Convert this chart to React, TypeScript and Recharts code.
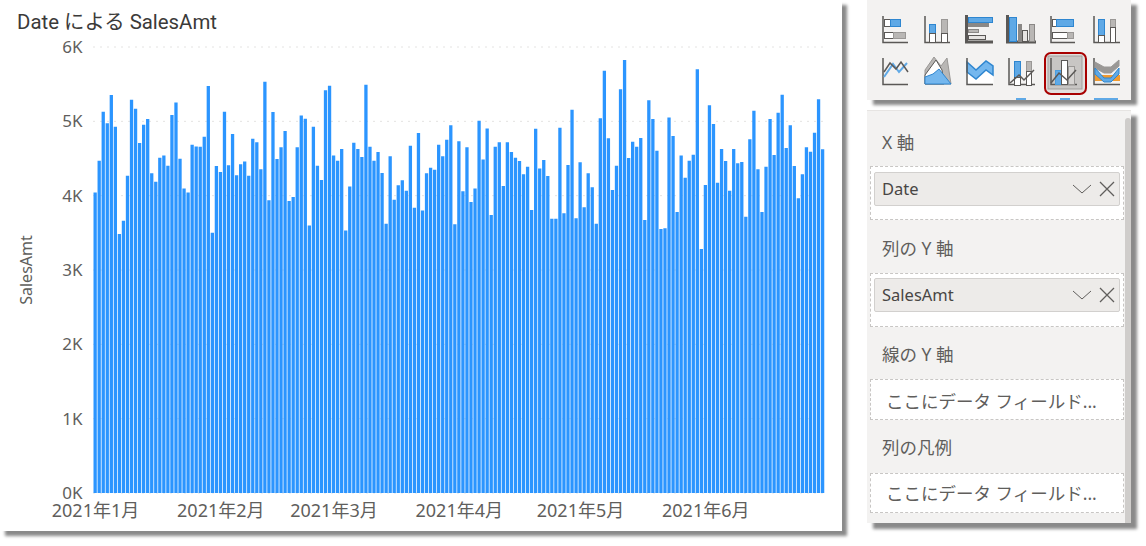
import { CSSProperties, FC } from "react";
import { Bar, BarChart, CartesianGrid, XAxis, YAxis } from "recharts";

const janSales = [4044, 4470, 5130, 4973, 5354, 4928, 3484, 3663, 4269, 5291, 5170, 4708, 4955, 5031, 4300, 4188, 4511, 4542, 4403, 5085, 5255, 4497, 4098, 4044, 4686, 4663, 4659, 4793, 5475, 3502, 4399];
const febSales = [4318, 5130, 4408, 4829, 4273, 4421, 4461, 4269, 4766, 4717, 4354, 5533, 3937, 5125, 4493, 4650, 4870, 3928, 3982, 4650, 5080, 5036, 3600, 4928, 4403, 4210, 5417, 5480];
const marSales = [4542, 4470, 4627, 3533, 4125, 4713, 4627, 4520, 5493, 4659, 4470, 4587, 4304, 3623, 4529, 3946, 4139, 4206, 4067, 4672, 3838, 4843, 3802, 4300, 4376, 4349, 4686, 4529, 4753, 4946, 3614];
const aprSales = [4731, 4058, 4650, 3914, 4098, 5009, 4488, 4905, 3739, 4659, 4717, 4130, 4717, 4587, 4511, 4466, 4287, 4390, 3807, 4901, 4367, 4479, 4264, 3690, 3690, 4914, 3762, 4412, 5157, 3695];
const maySales = [4448, 3843, 4300, 4112, 3623, 5040, 5681, 4771, 4076, 4403, 5430, 5825, 4506, 4726, 4659, 4775, 3672, 5282, 5031, 4605, 3551, 3560, 5053, 4802, 3780, 4542, 4242, 4470, 4551, 5699, 3282];
const junSales = [4143, 5215, 4964, 4174, 4627, 4466, 4067, 4627, 4435, 4453, 3717, 4758, 5143, 4354, 3780, 4390, 5031, 4547, 5116, 5358, 4641, 4946, 4399, 3964, 4287, 4650, 4592, 4847, 5296, 4623];

const monthSales = [janSales, febSales, marSales, aprSales, maySales, junSales];
const monthLabels = ["2021年1月", "2021年2月", "2021年3月", "2021年4月", "2021年5月", "2021年6月"];
const valueTicks = [0, 1000, 2000, 3000, 4000, 5000, 6000];

const chartData = monthSales.flatMap((values, m) =>
    values.map((SalesAmt, d) => ({ date: `${monthLabels[m]}${d + 1}日`, SalesAmt }))
);
const monthTicks = monthLabels.map((label) => `${label}1日`);

const FONT = '"Noto Sans", "Noto Sans CJK JP", sans-serif';
const BLUE = "#5fa9e6";
const GREY = "#b9b7b5";
const DARK = "#5a5856";
const PANEL = "#f3f2f1";

const box = (left: number, top: number, width: number, height: number): CSSProperties => ({
    position: "absolute",
    left,
    top,
    width,
    height,
    boxSizing: "border-box",
});

const Caption: FC<{ y: number; text: string }> = ({ y, text }) => (
    <div style={{ ...box(882, y - 13, 200, 24), lineHeight: "24px", fontSize: 17.5, color: "#605e5c" }}>{text}</div>
);

const Well: FC<{ y: number; h: number }> = ({ y, h }) => (
    <div style={{ ...box(870, y, 254, h), background: "#fff", border: "1px dashed #c8c6c4" }} />
);

const Field: FC<{ y: number; text: string }> = ({ y, text }) => (
    <div style={{ ...box(874, y, 246, 34), background: "#edebe9", border: "1px solid #d2d0ce", borderRadius: 2 }}>
        <span style={{ position: "absolute", left: 7, top: 0, lineHeight: "32px", fontSize: 16.5, color: "#484644" }}>{text}</span>
        <svg style={{ position: "absolute", left: 196, top: 8 }} width={46} height={16} fill="none" stroke="#605e5c">
            <path d="M2 4 L11 12 L20 4" strokeWidth={1} />
            <path d="M29 1 L43 15 M43 1 L29 15" strokeWidth={1.3} />
        </svg>
    </div>
);

const Placeholder: FC<{ y: number }> = ({ y }) => (
    <div style={{ ...box(886, y - 12, 232, 24), lineHeight: "24px", fontSize: 17.5, color: "#605e5c", whiteSpace: "nowrap" }}>
        ここにデータ フィールド...
    </div>
);

// small visual-type icons of the field pane
const Icons: FC = () => {
    const rect = (x: number, y: number, w: number, h: number, fill: string, stroke = DARK) => (
        <rect x={x + 0.5} y={y + 0.5} width={w} height={h} fill={fill} stroke={stroke} strokeWidth={1} />
    );
    const axis = (x: number, top: number, bottom: number, right: number, width = 1.5) => (
        <path d={`M${x} ${top} V${bottom} H${right}`} fill="none" stroke={DARK} strokeWidth={width} />
    );
    const line = (d: string, stroke: string, fill = "none", width = 1.5) => (
        <path d={d} fill={fill} stroke={stroke} strokeWidth={width} />
    );
    return (
        <svg style={{ position: "absolute", left: 0, top: 0 }} width={1146} height={104}>
            {/* row one */}
            {axis(883, 16, 42.5, 908)}
            {rect(884, 19, 6, 7, "#fff")}
            {rect(890, 19, 10, 7, BLUE, "#2e86d0")}
            {rect(884, 32, 9, 6, "#fff")}
            {rect(893, 32, 12, 6, GREY, "#9a9896")}
            {axis(925, 16, 42.5, 950)}
            {rect(929, 24, 6, 9, BLUE, "#2e86d0")}
            {rect(929, 33, 6, 9, "#fff")}
            {rect(941, 19, 6, 14, GREY, "#9a9896")}
            {rect(941, 33, 6, 9, "#fff")}
            {axis(966.5, 15, 42, 993, 3)}
            {rect(968, 17, 24, 5, BLUE, "#2e86d0")}
            {rect(968, 23, 20, 3, "#8a8886", "#8a8886")}
            {rect(968, 29, 10, 3, GREY, "#8a8886")}
            {rect(968, 35, 17, 4, "#e6e4e2", "#5a5856")}
            {axis(1007.5, 15, 42, 1036, 3)}
            {rect(1009, 17, 7, 24, BLUE, "#2e86d0")}
            {rect(1018, 24, 3, 17, "#8a8886", "#8a8886")}
            {rect(1022, 30, 5, 11, "#e6e4e2", DARK)}
            {rect(1029, 24, 5, 17, GREY, "#8a8886")}
            {axis(1051, 16, 42.5, 1075)}
            {rect(1052, 19, 4, 7, "#fff")}
            {rect(1056, 19, 17, 7, BLUE, "#2e86d0")}
            {rect(1052, 32, 15, 6, "#fff")}
            {rect(1067, 32, 6, 6, GREY, "#9a9896")}
            {axis(1094, 16, 42.5, 1120)}
            {rect(1098, 19, 6, 16, BLUE, "#2e86d0")}
            {rect(1098, 35, 6, 7, "#fff")}
            {rect(1110, 19, 5, 8, GREY, "#9a9896")}
            {rect(1110, 27, 5, 15, "#fff")}
            {/* row two */}
            {axis(883, 58, 84.5, 908)}
            {line("M884 77 L893 64 L899 72 L907 63", BLUE, "none", 2)}
            {line("M884 72 L890 63 L896 69 L901 62 L908 72", DARK)}
            {line("M925 70 L934 57 L941 66 L947 58 L951 84 H925 Z", "#9a9896", GREY, 1)}
            {line("M925 75 L936 60 L942 70 L944 84 H925 Z", DARK, "#fff", 1)}
            {line("M925 77 L933 74 L939 69 L951 84 H925 Z", "#2e86d0", "#74b7ee", 1)}
            {line("M967 72 L976 79 L986 70 L993 75 V84 H967 Z", "#fff", "#fff", 1)}
            {line("M967 62 L976 70 L986 61 L993 66 V75 L986 70 L976 79 L967 72 Z", "#2e86d0", "#74b7ee", 1.5)}
            {axis(967, 58, 84.5, 993)}
            {axis(1009, 58, 84.5, 1035)}
            {rect(1014, 61, 6, 16, BLUE, "#2e86d0")}
            {rect(1014, 77, 6, 8, "#fff")}
            {rect(1026, 61, 5, 10, GREY, "#9a9896")}
            {rect(1026, 71, 5, 14, "#fff")}
            {line("M1010 83 L1019 75 L1024 80 L1034 70", DARK)}
            {/* selected icon */}
            <rect x={1045} y={53} width={41} height={41} rx={6} fill="#e1dfdd" stroke="#a80000" strokeWidth={2} />
            <rect x={1048} y={56} width={34} height={33} fill="#c8c6c4" stroke="#a19f9d" strokeWidth={1} />
            {axis(1051, 58, 84.5, 1077)}
            {rect(1055, 70, 6, 14, BLUE, "#4a9ee0")}
            {rect(1061, 60, 6, 24, "#fff")}
            {rect(1068, 66, 6, 18, "#d6d4d2", "#9a9896")}
            {line("M1051 83 L1059 73 L1067 80 L1076 70", DARK)}
            {axis(1094, 58, 84.5, 1120)}
            {line("M1095 62 L1104 67 L1111 67 L1119 60 V66 L1111 73 L1104 73 L1095 68 Z", "#9a9896", "#9a9896", 1)}
            {rect(1095, 75, 24, 5, "#f09a30", "#f09a30")}
            {line("M1095 68 L1104 78 L1111 78 L1119 68 V74 L1111 82 L1104 82 L1095 74 Z", "#2e86d0", BLUE, 1)}
            {/* tops of the clipped third row */}
            <rect x={1016} y={98} width={10} height={2} fill={BLUE} />
            <rect x={1060} y={98} width={10} height={2} fill={BLUE} />
            <rect x={1094} y={98} width={24} height={2} fill={BLUE} />
        </svg>
    );
};

const App: FC = () => (
    <div style={{ position: "absolute", left: 0, top: 0, width: 1146, height: 546, background: "#fff", fontFamily: FONT, overflow: "hidden" }}>
        {/* chart card */}
        <div style={{ ...box(0, 0, 842, 531), background: "#fff", boxShadow: "5px 5px 3px #8a8a8a" }}>
            <div style={{ position: "absolute", left: 17, top: 5, fontFamily: '"Roboto", "Noto Sans CJK JP", sans-serif', fontSize: 20.4, color: "#3b3a39", whiteSpace: "nowrap" }}>
                Date による SalesAmt
            </div>
            <BarChart width={842} height={531} data={chartData} margin={{ top: 47, right: 17, bottom: 0, left: 0 }} barSize={3.3}>
                <CartesianGrid vertical={false} stroke="#c8c6c4" strokeDasharray="1 6" />
                <XAxis
                    dataKey="date"
                    ticks={monthTicks}
                    interval={0}
                    height={38}
                    tickFormatter={(v: string) => v.slice(0, v.indexOf("月") + 1)}
                    axisLine={false}
                    tickLine={false}
                    tickMargin={5}
                    tick={{ fontSize: 18, fill: "#605e5c", fontFamily: FONT }}
                />
                <YAxis
                    domain={[0, 6000]}
                    ticks={valueTicks}
                    width={93.5}
                    tickFormatter={(v: number) => `${v / 1000}K`}
                    axisLine={false}
                    tickLine={false}
                    tickMargin={5}
                    tick={{ fontSize: 17, fill: "#605e5c", fontFamily: FONT }}
                    label={{ value: "SalesAmt", angle: -90, position: "insideLeft", offset: 26, style: { textAnchor: "middle", fontSize: 16, fill: "#605e5c", fontFamily: FONT } }}
                />
                <Bar dataKey="SalesAmt" fill="#2b95ff" isAnimationActive={false} />
            </BarChart>
        </div>

        {/* visual icons pane */}
        <div style={{ ...box(867, 0, 264, 100), background: PANEL, boxShadow: "6px 5px 3px #8a8a8a" }} />
        <Icons />

        {/* field wells pane */}
        <div style={{ ...box(867, 110, 264, 413), background: PANEL, borderTop: "1px solid #e6e4e2", boxShadow: "6px 6px 3px #8a8a8a" }} />
        <div style={{ ...box(1125, 118, 6, 405), background: "#cfcdcb", borderRadius: "3px 3px 0 0" }} />

        <Caption y={143} text="X 軸" />
        <Well y={166} h={54} />
        <Field y={172} text="Date" />

        <Caption y={249} text="列の Y 軸" />
        <Well y={273} h={54} />
        <Field y={278} text="SalesAmt" />

        <Caption y={355} text="線の Y 軸" />
        <Well y={379} h={41} />
        <Placeholder y={401} />

        <Caption y={448} text="列の凡例" />
        <Well y={473} h={40} />
        <Placeholder y={493} />
    </div>
);

export default App;
